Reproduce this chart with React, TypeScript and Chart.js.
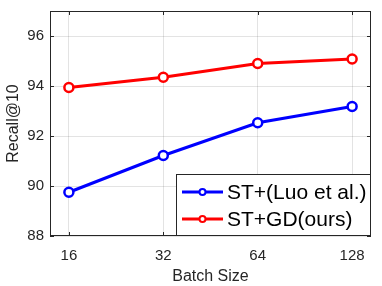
import { useEffect, useRef } from "react";
import { Chart, registerables } from "chart.js";
Chart.register(...registerables);

const batchSizes = [16, 32, 64, 128];
const luoRecall = [89.75, 91.22, 92.53, 93.18];
const oursRecall = [93.94, 94.35, 94.9, 95.08];
const yTicks = [88, 90, 92, 94, 96];
const seriesNames = ["ST+(Luo et al.)", "ST+GD(ours)"];
const seriesColors = ["#0000ff", "#ff0000"];
const xTitle = "Batch Size";
const yTitle = "Recall@10";

const FONT = "'Liberation Sans', Arial, Helvetica, sans-serif";
const AXIS = "#262626";

const boxPlugin = {
  id: "matlabBox",
  afterDraw(chart: any) {
    const { ctx, chartArea: a, scales } = chart;
    ctx.save();
    ctx.strokeStyle = AXIS;
    ctx.lineWidth = 1;
    ctx.strokeRect(a.left + 0.5, a.top + 0.5, a.right - a.left - 1, a.bottom - a.top - 1);
    const tl = 4;
    ctx.beginPath();
    for (const b of batchSizes) {
      const x = Math.round(scales.x.getPixelForValue(Math.log2(b))) + 0.5;
      ctx.moveTo(x, a.bottom);
      ctx.lineTo(x, a.bottom - tl);
      ctx.moveTo(x, a.top);
      ctx.lineTo(x, a.top + tl);
    }
    for (const t of yTicks) {
      const y = Math.round(scales.y.getPixelForValue(t)) + 0.5;
      ctx.moveTo(a.left, y);
      ctx.lineTo(a.left + tl, y);
      ctx.moveTo(a.right, y);
      ctx.lineTo(a.right - tl, y);
    }
    ctx.stroke();

    // legend box inside bottom-right
    const lw = 195;
    const lh = 62;
    const lx = a.right - lw;
    const ly = a.bottom - lh;
    ctx.fillStyle = "#ffffff";
    ctx.fillRect(lx, ly, lw, lh);
    ctx.strokeStyle = AXIS;
    ctx.strokeRect(lx + 0.5, ly + 0.5, lw - 1, lh - 1);
    seriesNames.forEach((name, i) => {
      const cy = ly + 18 + i * 27;
      ctx.strokeStyle = seriesColors[i];
      ctx.lineWidth = 3;
      ctx.beginPath();
      ctx.moveTo(lx + 6, cy);
      ctx.lineTo(lx + 47, cy);
      ctx.stroke();
      ctx.fillStyle = "#ffffff";
      ctx.lineWidth = 2;
      ctx.beginPath();
      ctx.arc(lx + 26.5, cy, 3, 0, Math.PI * 2);
      ctx.fill();
      ctx.stroke();
      ctx.fillStyle = "#000000";
      ctx.font = `21px ${FONT}`;
      ctx.textBaseline = "middle";
      ctx.textAlign = "left";
      ctx.fillText(name, lx + 51, cy + 1);
    });
    ctx.restore();
  },
};

export default function App() {
  const ref = useRef<HTMLCanvasElement>(null);
  useEffect(() => {
    if (!ref.current) return;
    const mk = (vals: number[]) => batchSizes.map((b, i) => ({ x: Math.log2(b), y: vals[i] }));
    const chart = new Chart(ref.current, {
      type: "line",
      data: {
        datasets: [luoRecall, oursRecall].map((vals, i) => ({
          label: seriesNames[i],
          data: mk(vals),
          borderColor: seriesColors[i],
          backgroundColor: "#ffffff",
          borderWidth: 3,
          pointRadius: 4.5,
          pointBorderWidth: 2.5,
          pointBackgroundColor: "#ffffff",
          pointBorderColor: seriesColors[i],
          tension: 0,
        })),
      },
      options: {
        animation: false,
        responsive: false,
        devicePixelRatio: 1,
        layout: { padding: { top: 11, right: 11, left: 0, bottom: 0 } },
        plugins: { legend: { display: false }, tooltip: { enabled: false } },
        scales: {
          x: {
            type: "linear",
            min: 3.8,
            max: 7.2,
            afterBuildTicks: (s: any) => {
              s.ticks = batchSizes.map((b) => ({ value: Math.log2(b) }));
            },
            afterFit: (s: any) => {
              s.height = 50;
              s.paddingLeft = 0;
              s.paddingRight = 0;
            },
            grid: { color: "rgba(38,38,38,0.13)", drawTicks: false },
            border: { display: false },
            ticks: {
              padding: 11,
              color: AXIS,
              font: { family: FONT, size: 15 },
              callback: (v: any) => String(Math.round(Math.pow(2, v))),
              maxRotation: 0,
            },
            title: {
              display: true,
              text: xTitle,
              color: AXIS,
              font: { family: FONT, size: 16 },
              padding: { top: 0, bottom: 0 },
            },
          },
          y: {
            min: 88,
            max: 97,
            afterBuildTicks: (s: any) => {
              s.ticks = yTicks.map((v) => ({ value: v }));
            },
            afterFit: (s: any) => {
              s.width = 50;
              s.paddingTop = 0;
              s.paddingBottom = 0;
            },
            grid: { color: "rgba(38,38,38,0.13)", drawTicks: false },
            border: { display: false },
            ticks: {
              padding: 6,
              color: AXIS,
              font: { family: FONT, size: 15 },
            },
            title: {
              display: true,
              text: yTitle,
              color: AXIS,
              font: { family: FONT, size: 16 },
              padding: { top: 4, bottom: 0 },
            },
          },
        },
      },
      plugins: [boxPlugin],
    });
    return () => chart.destroy();
  }, []);
  return (
    <div style={{ position: "absolute", left: 0, top: 0, width: 382, height: 286, background: "#fff" }}>
      <canvas ref={ref} width={382} height={286} style={{ width: 382, height: 286 }} />
    </div>
  );
}
